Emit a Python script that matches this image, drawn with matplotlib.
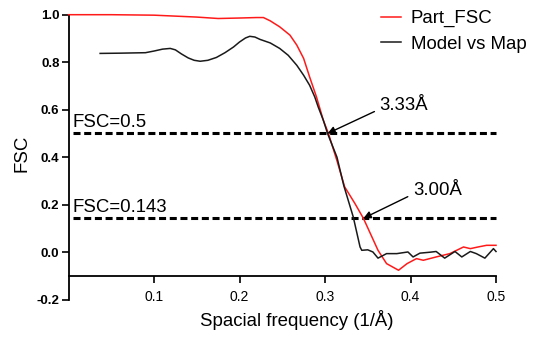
import matplotlib
matplotlib.use("Agg")
import matplotlib.pyplot as plt

# =========================
# DATA
# =========================

part_fsc_x = [0.0, 0.05, 0.10, 0.15, 0.175, 0.20, 0.22, 0.228, 0.236, 0.247,
              0.259, 0.267, 0.275, 0.282, 0.29, 0.298, 0.304, 0.314, 0.323,
              0.335, 0.345, 0.353, 0.362, 0.372, 0.386, 0.396, 0.407, 0.415,
              0.43, 0.446, 0.462, 0.47, 0.479, 0.489, 0.5]
part_fsc_y = [1.0, 1.0, 0.998, 0.99, 0.984, 0.986, 0.988, 0.988, 0.974, 0.949,
              0.914, 0.872, 0.816, 0.738, 0.654, 0.556, 0.50, 0.385, 0.275,
              0.205, 0.142, 0.079, 0.008, -0.048, -0.076, -0.048, -0.027,
              -0.034, -0.02, -0.006, 0.022, 0.015, 0.022, 0.029, 0.029]

model_x = [0.037, 0.06, 0.09, 0.10, 0.11, 0.119, 0.125, 0.132, 0.14, 0.147,
           0.154, 0.163, 0.173, 0.183, 0.193, 0.20, 0.207, 0.212, 0.218,
           0.224, 0.236, 0.247, 0.257, 0.267, 0.275, 0.282, 0.288, 0.292,
           0.298, 0.303, 0.314, 0.322, 0.333, 0.341, 0.343, 0.35, 0.356,
           0.362, 0.372, 0.384, 0.397, 0.403, 0.411, 0.423, 0.43, 0.44,
           0.452, 0.46, 0.47, 0.477, 0.487, 0.497, 0.5]
model_y = [0.837, 0.838, 0.84, 0.847, 0.855, 0.858, 0.852, 0.835, 0.818, 0.808,
           0.804, 0.808, 0.82, 0.84, 0.864, 0.885, 0.902, 0.909, 0.906,
           0.896, 0.881, 0.858, 0.829, 0.787, 0.745, 0.703, 0.654, 0.612,
           0.556, 0.50, 0.40, 0.28, 0.149, 0.022, 0.008, 0.01, 0.001,
           -0.025, -0.006, -0.006, 0.001, -0.02, -0.004, 0.0, 0.003, -0.025,
           0.003, -0.02, 0.003, -0.006, -0.025, 0.015, 0.003]

thresholds = [0.5, 0.143]
threshold_labels = ["FSC=0.5", "FSC=0.143"]
resolution_labels = ["3.33Å", "3.00Å"]
crossing_x = [0.303, 0.345]

x_ticks = [0.1, 0.2, 0.3, 0.4, 0.5]
y_ticks = [-0.2, 0.0, 0.2, 0.4, 0.6, 0.8, 1.0]

plt.rcParams["font.family"] = ["Liberation Sans", "DejaVu Sans"]

# =========================
# FIGURE
# =========================

fig = plt.figure(figsize=(5.38, 3.37), dpi=100)
ax = fig.add_axes([68.5 / 538, 1 - 299.7 / 337, 427.5 / 538, 285 / 337])

ax.plot(part_fsc_x, part_fsc_y, color="#ff1a1a", lw=1.1,
        label="Part_FSC", clip_on=False, zorder=3)
ax.plot(model_x, model_y, color="#1a1a1a", lw=1.1,
        label="Model vs Map", clip_on=False, zorder=3)

# threshold lines
for thr, lab in zip(thresholds, threshold_labels):
    ax.plot([0.005, 0.5], [thr, thr], color="black", lw=2.2,
            dashes=(2.3, 1.2), clip_on=False, zorder=2)
    ax.text(0.005, thr + 0.026, lab, fontsize=13.4, ha="left",
            va="baseline")

# resolution arrows
text_pos = [(0.364, 0.598), (0.403, 0.24)]
for cx, thr, lab, (tx, ty) in zip(crossing_x, thresholds,
                                   resolution_labels, text_pos):
    ax.annotate(lab, xy=(cx, thr), xytext=(tx, ty), fontsize=13.4,
                ha="left", va="baseline",
                arrowprops=dict(arrowstyle="-|>", color="black", lw=1.0,
                                mutation_scale=11, shrinkA=2, shrinkB=0,
                                relpos=(0.0, 0.3)))

# =========================
# AXES
# =========================

ax.set_xlim(0, 0.5)
ax.set_ylim(-0.2, 1.0)
ax.set_xticks(x_ticks)
ax.set_yticks(y_ticks)
ax.set_xticklabels([f"{v:.1f}" for v in x_ticks], fontweight="bold",
                   fontsize=9.5)
ax.set_yticklabels([f"{v:.1f}" for v in y_ticks], fontweight="bold",
                   fontsize=9.5)

ax.spines["top"].set_visible(False)
ax.spines["right"].set_visible(False)
ax.spines["bottom"].set_position(("data", -0.1))
ax.spines["bottom"].set_linewidth(1.3)
ax.spines["left"].set_linewidth(1.3)

ax.tick_params(axis="both", direction="out", length=5, width=1.2)
ax.tick_params(axis="x", pad=5)
ax.tick_params(axis="y", pad=1.5)

ax.set_xlabel("Spacial frequency (1/Å)", fontsize=13.4)
ax.set_ylabel("FSC", fontsize=13.4)
ax.xaxis.set_label_coords(0.533, -0.035)
ax.yaxis.set_label_coords(-0.088, 0.515)

ax.patch.set_visible(False)

# =========================
# LEGEND
# =========================

ax.legend(loc="upper left", bbox_to_anchor=(381 / 538, 1 - 10 / 337),
          bbox_transform=fig.transFigure, frameon=False, fontsize=13.4,
          handlelength=1.1, handletextpad=0.5, labelspacing=0.47,
          borderpad=0, borderaxespad=0)

fig.savefig("out.png", dpi=100)
